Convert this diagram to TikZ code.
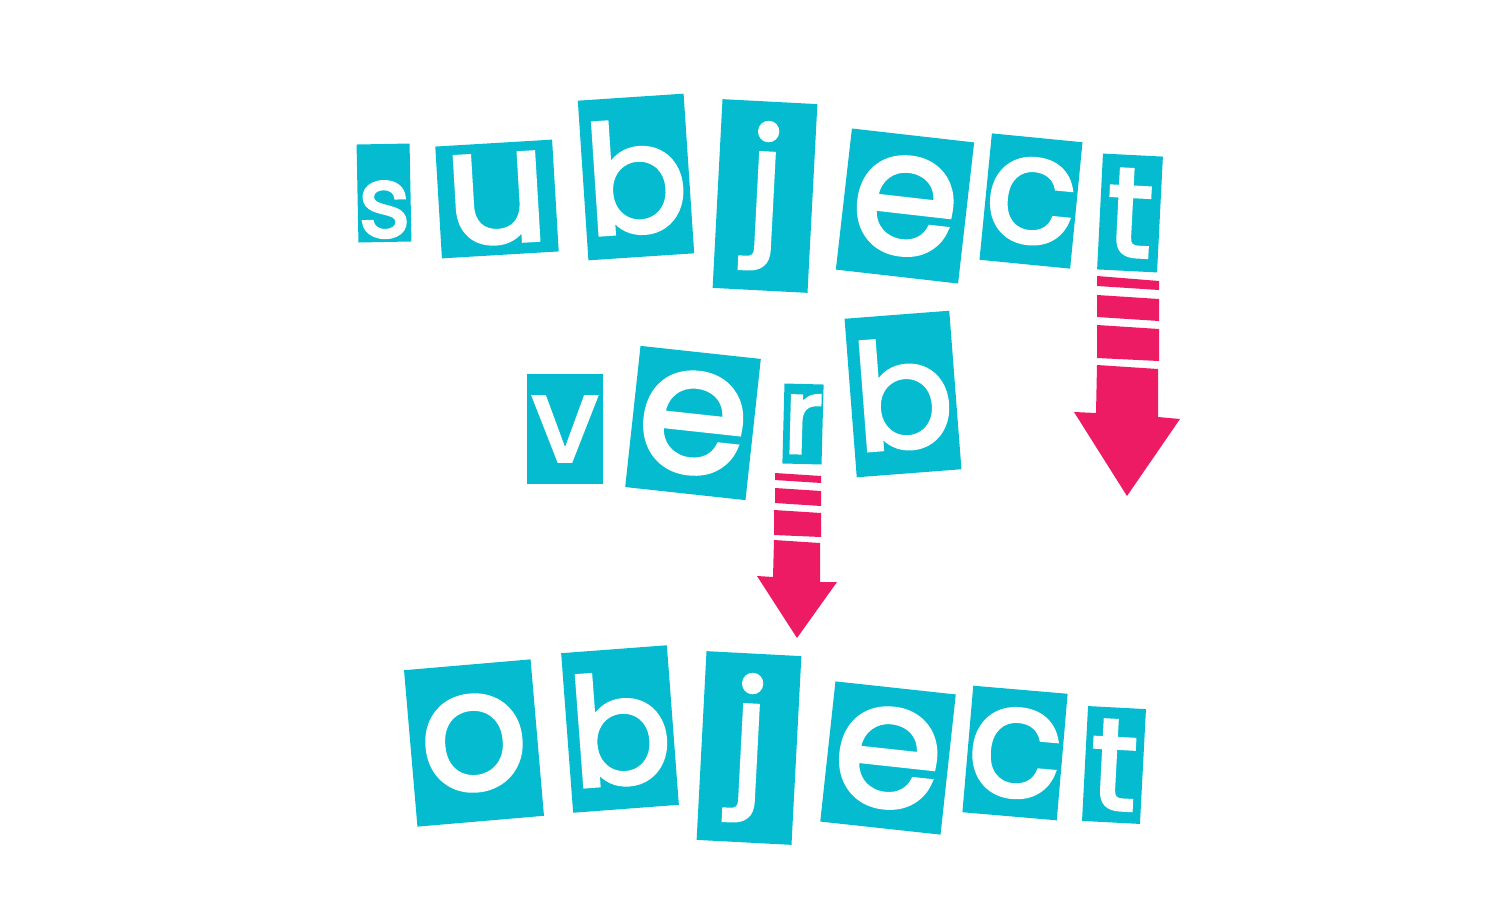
\documentclass[tikz,border=0pt]{standalone}
\usepackage{fontspec}
\newfontfamily\tilefont[FakeBold=2.5]{Poppins}
\definecolor{tilecyan}{HTML}{05BBCF}
\definecolor{arrowpink}{HTML}{ED1A64}
\tikzset{
  tile/.style={fill=tilecyan, text=white, inner sep=0pt, outer sep=0pt},
  band/.style={fill=arrowpink}
}
\begin{document}
\begin{tikzpicture}[x=1pt,y=-1pt]
    \useasboundingbox (0,0) rectangle (1500,900);
    % subject, verb, object tiles: name/x/y/width/height/angle/letter/size
    \foreach \tname/\tx/\ty/\tw/\tht/\trot/\tlet/\tsz in {
      ss/384/193/53/98/1.1/{\raisebox{-44pt}[0pt][0pt]{s}}/100,
      su/497/199/117/112/3.4/u/160,
      sb/636/177/106/160/3.8/b/151, sj/765/196/95/189/-3/j/144,
      se/905/206/123/142/-6.5/e/172, sc/1031/201/82/127/-5.6/c/150,
      st/1130/213/60/116/-2.9/t/127,
      vv/565/429/76/110/0/v/118, ve/693/423/121/142/-6.2/e/178,
      vr/803/424/38/80/-1.5/r/105, vb/903/394/105/159/4.4/b/147,
      oo/474/743/127/157/4.9/o/168, ob/620/729/106/160/4.3/b/150,
      oj/749/748/95/189/-3/j/144, oe/888/758/121/141/-6.2/e/175,
      oc/1015/753/82/127/-4.9/c/156, ot/1114/765/58/115/-3/t/130}
    \node[tile, minimum width=\tw pt, minimum height=\tht pt, rotate=\trot,
      font=\tilefont\fontsize{\tsz}{\tsz}\selectfont] (\tname) at (\tx,\ty) {\tlet};
    % arrow under the t of subject
    \fill[band] (1097,276) -- (1159,281) -- (1159,290) -- (1097,286) -- cycle;
    \fill[band] (1097,295) -- (1159,299) -- (1159,321) -- (1097,317) -- cycle;
    \fill[band] (1097,325) -- (1159,329) -- (1159,361) -- (1097,358) -- cycle;
    \fill[band] (1097,365) -- (1158,369) -- (1158,417) -- (1180,419)
      -- (1127,496) -- (1074,412) -- (1096,413) -- cycle;
    % arrow under the r of verb
    \fill[band] (775,473) -- (821,476) -- (821,483) -- (775,480) -- cycle;
    \fill[band] (775,488) -- (821,491) -- (821,506) -- (775,503) -- cycle;
    \fill[band] (774,510) -- (821,513) -- (821,537) -- (774,535) -- cycle;
    \fill[band] (774,540) -- (820,543) -- (820,582) -- (837,582)
      -- (797,638) -- (757,576) -- (773,577) -- cycle;
\end{tikzpicture}
\end{document}
